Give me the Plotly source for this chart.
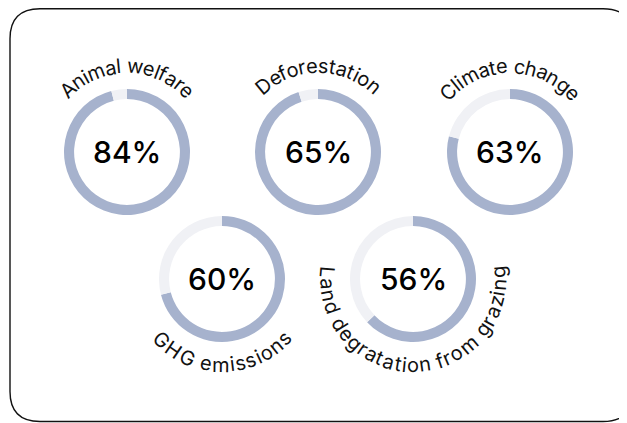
import math
import plotly.graph_objects as go

W, H = 627, 423
OFF = 8  # page body margin; coordinates below are screen pixels

labels = ["Animal welfare", "Deforestation", "Climate change", "GHG emissions", "Land degratation from grazing"]
values = [84, 65, 63, 60, 56]
# share of each ring drawn in colour
ring_fill = [96, 95, 79, 71, 63]
label_side = ["top", "top", "top", "bottom", "bottom"]

centers = [(127, 152), (318, 152), (510, 152), (222, 279), (413, 279)]
R_OUT = 63
HOLE = 0.84
FILL = "#A6B2CD"
REST = "#F0F1F5"
FONT = "Inter"

# rough advance widths (em) for the label font
CHAR_W = {
    " ": 0.27, "A": 0.70, "C": 0.72, "D": 0.72, "G": 0.76, "H": 0.74, "L": 0.55,
    "a": 0.56, "c": 0.54, "d": 0.60, "e": 0.57, "f": 0.36, "g": 0.60, "h": 0.58,
    "i": 0.24, "l": 0.24, "m": 0.87, "n": 0.58, "o": 0.58, "r": 0.37, "s": 0.52,
    "t": 0.35, "w": 0.80, "z": 0.52,
}


def arc_text(text, cx, cy, radius, size, side, spread=1.05):
    widths = [CHAR_W.get(ch, 0.55) * size * spread for ch in text]
    pos = -sum(widths) / 2
    out = []
    for ch, w in zip(text, widths):
        s = pos + w / 2
        pos += w
        if ch == " ":
            continue
        ang = s / radius
        a = ang if side == "top" else math.pi - ang
        x = cx + radius * math.sin(a)
        y = cy - radius * math.cos(a)
        rot = math.degrees(a) if side == "top" else math.degrees(a) - 180
        out.append(dict(x=x, y=y, xref="x", yref="y", text=ch, showarrow=False,
                        textangle=rot, xanchor="center", yanchor="middle",
                        font=dict(family=FONT, size=size, color="#111111")))
    return out


fig = go.Figure()
annotations = []

for lab, val, fill, side, (cx, cy) in zip(labels, values, ring_fill, label_side, centers):
    fig.add_trace(go.Pie(
        values=[fill, 100 - fill],
        marker=dict(colors=[FILL, REST], line=dict(width=0)),
        hole=HOLE, sort=False, direction="clockwise", rotation=0,
        textinfo="none", hoverinfo="skip", showlegend=False,
        domain=dict(x=[(cx - OFF - R_OUT) / W, (cx - OFF + R_OUT) / W],
                    y=[(OFF + H - cy - R_OUT) / H, (OFF + H - cy + R_OUT) / H]),
    ))
    annotations.append(dict(x=cx, y=cy, xref="x", yref="y", text=f"{val}%", showarrow=False,
                            xanchor="center", yanchor="middle",
                            font=dict(family=FONT, size=30, weight=500, color="#000000")))
    r_txt = 86 if side == "top" else 86
    annotations += arc_text(lab, cx, cy, r_txt, 20, side)

# rounded frame (top edge kept just inside the figure)
x0, y0, x1, y1, rc = 10, 8.8, 633, 421.5, 30
frame = (f"M {x0 + rc},{y0} L {x1 - rc},{y0} Q {x1},{y0} {x1},{y0 + rc} "
         f"L {x1},{y1 - rc} Q {x1},{y1} {x1 - rc},{y1} L {x0 + rc},{y1} "
         f"Q {x0},{y1} {x0},{y1 - rc} L {x0},{y0 + rc} Q {x0},{y0} {x0 + rc},{y0} Z")

fig.update_layout(
    width=W, height=H,
    margin=dict(l=0, r=0, t=0, b=0),
    paper_bgcolor="white", plot_bgcolor="white",
    xaxis=dict(range=[OFF, OFF + W], visible=False, fixedrange=True),
    yaxis=dict(range=[OFF + H, OFF], visible=False, fixedrange=True),
    shapes=[dict(type="path", path=frame, xref="x", yref="y",
                 line=dict(color="#111111", width=1.4), layer="below")],
    annotations=annotations,
)

fig.write_html("out.html")
